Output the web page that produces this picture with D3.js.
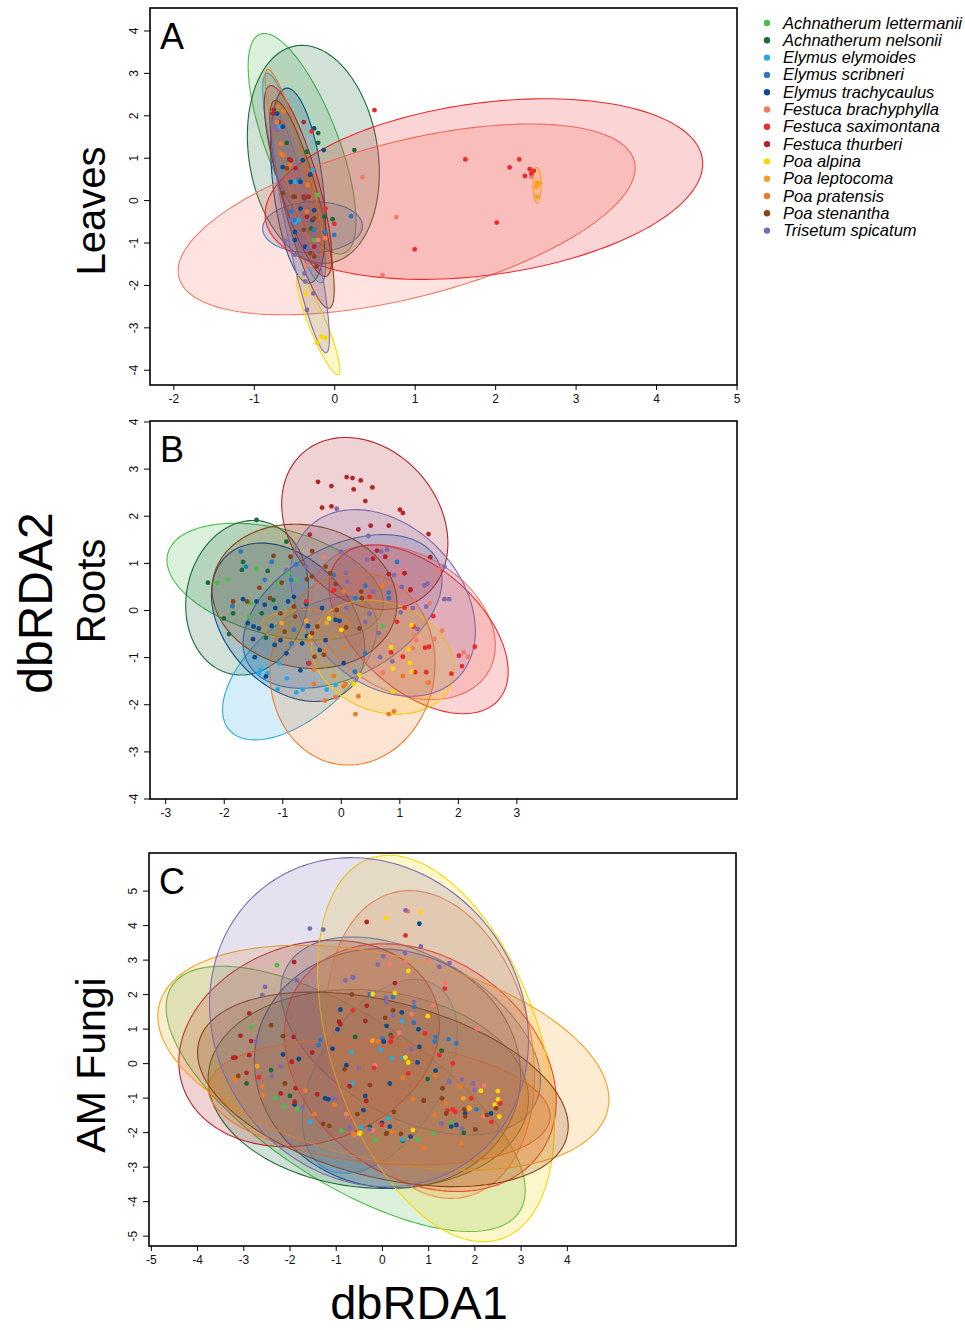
<!DOCTYPE html>
<html>
<head>
<meta charset="utf-8">
<title>dbRDA ordination</title>
<style>
	body { margin: 0; background: #fff; }
	text { font-family: "Liberation Sans", Arial, Helvetica, sans-serif; }
</style>
</head>
<body>
<script src="https://cdn.jsdelivr.net/npm/d3@7"></script>
<script>
// species and their colours
var species = ["Achnatherum lettermanii", "Achnatherum nelsonii", "Elymus elymoides", "Elymus scribneri",
	"Elymus trachycaulus", "Festuca brachyphylla", "Festuca saximontana", "Festuca thurberi", "Poa alpina",
	"Poa leptocoma", "Poa pratensis", "Poa stenantha", "Trisetum spicatum"];
var palette = ["#4dbb4d", "#1b6b3a", "#2aa9e0", "#2b78c2", "#0c4c8c", "#f47a65", "#ec2a2e",
	"#b0242a", "#fcd800", "#f9a11d", "#ef7a26", "#8b4419", "#7d6ab0"];

// ellipses per species: [centre x, centre y, half width, half height, correlation]
var ellA = [[-0.4,1.33,0.67,2.6,-0.7],[-0.26,1.08,0.82,2.57,-0.17],[-0.5,0.52,0.39,2.47,-0.85],[-0.27,-0.64,0.62,0.6,0.05],
	[-0.45,0.34,0.34,2.3,-0.4],[0.9,-0.455,2.84,2.25,0.54],[1.86,0.26,2.72,2.13,0.28],[-0.45,0.45,0.42,2.25,-0.8],
	[-0.2,-2.95,0.27,1.17,-0.9],[2.52,0.35,0.05,0.42,0],[-0.5,0.88,0.36,2.2,-0.9],[-0.4,-0.1,0.4,2.45,-0.82],[-0.42,-0.74,0.36,2.86,-0.88]];
var ellB = [[-1.12,0.6,1.85,1.24,-0.37],[-1.6,0.26,1.05,1.64,0.1],[-0.7,-1.235,1.32,1.52,0.58],[0.03,-0.03,1.7,1.63,0.41],
	[-0.9,-0.26,1.31,1.68,-0.35],[1.07,-0.26,1.57,1.64,-0.3],[1.33,-0.41,1.53,1.79,-0.5],[0.41,1.835,1.42,1.825,-0.23],
	[0.72,-1.0,1.22,1.21,-0.2],[-0.61,-0.33,0.76,0.34,0],[0.2,-1.24,1.41,2.05,0.05],[-0.62,0.29,1.58,1.53,-0.1],[0.72,0.15,1.58,1.98,-0.3]];
var ellC = [[-0.785,-1.035,3.885,3.845,-0.69],[-0.295,-0.75,3.465,2.88,-0.1],[-0.045,-0.385,1.675,2.805,0.45],[0.62,0.785,2.81,2.87,-0.45],
	[0.12,-0.155,2.88,3.47,-0.06],[1.05,0.54,2.25,4.46,-0.2],[0.83,-0.13,2.94,3.59,-0.27],[-1.575,0.57,2.82,2.99,0.18],
	[1.17,0.425,2.56,5.6,-0.4],[0.03,0.155,4.88,3.26,-0.37],[-0.06,-1.135,3.7,1.815,-0.22],[0.02,-0.76,4.01,2.82,-0.38],[-0.28,1.185,3.45,4.77,-0.11]];

// site scores per species (dbRDA1, dbRDA2)
var ptsA = [
	[[-0.21,0.12],[-0.71,2.12],[-0.25,-0.94]],
	[[0.25,1.18],[-0.2,1.58],[-0.2,1.35],[-0.02,-0.45],[-0.34,1.14],[-0.59,1.35],[-0.12,-0.39],[-0.29,-0.67]],
	[[-0.27,0.71],[-0.49,-0.53],[-0.69,1.74],[-0.71,2.04],[-0.49,0.43],[-0.44,-0.47]],
	[[0.21,-0.38],[0,-0.82],[-0.25,-0.7],[-0.12,-0.75],[-0.44,0.47],[-0.54,-0.27],[-0.5,-0.47]],
	[[-0.25,1.69],[-0.13,1.18],[-0.39,0.94],[-0.54,0.43],[-0.42,-0.2],[-0.49,-0.75],[-0.27,-0.47],[-0.64,0.78],[-0.71,2.04],[-0.42,0.43],[-0.49,-0.94],[-0.36,-1.1],[-0.25,-0.24],[-0.64,1.73],[-0.3,0.6]],
	[[0.35,0.54],[0.77,-0.4],[0.6,-1.77],[2.45,0.55],[-0.11,-0.9],[-0.34,-1.53],[-0.2,-0.94]],
	[[0.5,2.12],[1.63,0.96],[2.02,-0.53],[2.18,0.77],[2.3,0.96],[2.37,0.57],[2.43,0.73],[2.48,0.69],[2.45,0.63],[1.0,-1.16],[-0.11,-0.2],[-0.28,1.62],[0,-0.56]],
	[[-0.76,2.04],[-0.75,2.13],[-0.69,1.84],[-0.54,0.94],[-0.48,0.75],[-0.38,0.08],[-0.32,0.08],[-0.34,-0.39],[-0.25,-1.1],[-0.38,1.84],[-0.56,0.96]],
	[[-0.35,-2.2],[-0.16,-3.22],[-0.11,-3.25],[-0.21,-3.37]],
	[[2.52,0.41],[2.55,0.39],[2.52,0.08],[2.51,0.31]],
	[[-0.69,2.2],[-0.63,2.09],[-0.66,1.1],[-0.64,1.06],[-0.55,0.82],[-0.33,0.35],[-0.34,-0.27],[-0.71,1.84],[-0.66,1.33]],
	[[-0.64,0.16],[-0.49,0.08],[-0.37,0.04],[-0.25,-0.43],[-0.22,-1.57],[-0.3,-1.25],[-0.38,-0.7],[-0.59,0.75],[-0.51,0.08],[-0.25,-1.33]],
	[[-0.34,-2.59],[-0.26,-2.2],[-0.61,-0.96],[-0.49,-1.29],[-0.37,-1.73],[-0.74,1.73],[-0.54,-0.47],[-0.32,-1.14],[-0.71,1.65],[-0.36,-1.92]]
];
var ptsB = [
	[[-2.11,0.58],[-1.93,0.64],[-1.44,0.88],[-1.54,0.14],[-1.57,-0.14],[-0.76,0.64],[0.72,-0.34],[-0.9,0.78],[-1.07,0.56]],
	[[-2.27,0.58],[-2.0,-0.18],[-1.91,-0.51],[-1.67,1.02],[-1.69,0.85],[-1.25,0.83],[-0.93,1.45],[-1.15,0.21],[-1.35,-0.07],[-1.28,-0.59],[-1.84,-0.07],[-1.44,1.91]],
	[[-1.37,-1.27],[-1.25,-1.34],[-1.08,-1.68],[-0.92,-1.45],[-0.76,-1.75],[-0.65,-1.69],[-0.24,-1.69],[-0.09,-1.59],[0.25,0.23],[-0.22,-0.25],[-1.05,-1.13],[-1.4,-1.34]],
	[[0.96,1.02],[0.42,0.51],[0.82,0.37],[-0.12,0.74],[-0.85,0.64],[0.25,0.25],[-0.8,-0.42],[-1.71,1.24],[-1.62,0.92],[-1.18,1.02],[-0.76,0.97],[-1.85,0.08],[-1.3,0.64],[0.42,-0.92],[0.24,-1.31],[-0.84,-0.71],[0.82,0.25]],
	[[-1.67,0.23],[-1.44,0.18],[-1.59,-0.28],[-1.49,-0.35],[-1.4,-0.39],[-1.47,-1.0],[-1.5,-0.62],[-1.18,-0.34],[-1.3,0.11],[-1.12,0.04],[-1.03,-0.64],[-0.93,-0.92],[-1.13,-0.74],[-0.8,0.28],[-0.9,0.18],[-0.66,-0.71],[-0.69,-1.28],[-0.55,-1.13],[-0.09,-0.21],[-0.02,-0.23],[0.05,-1.13],[-0.58,-0.55],[-0.36,-0.85],[-0.26,-0.64],[-1.28,-1.41],[-0.32,0.04],[-0.56,-0.34],[-0.59,0.13]],
	[[-0.29,1.13],[1.02,0.8],[1.67,0.85],[1.5,0.56],[1.52,0.14],[1.6,-0.62],[1.73,-0.44],[2.1,-0.9],[2.17,-0.99],[1.29,-0.64],[1.26,-0.55],[0.72,-1.33],[1.23,-0.81],[1.48,-1.54]],
	[[-0.12,0.42],[1.09,0.05],[0.96,-0.25],[1.24,-0.35],[1.58,-0.13],[0.86,-0.9],[1.06,-0.99],[1.27,-1.32],[1.46,-1.32],[1.51,-0.78],[1.44,-0.8],[1.89,-1.35],[2.02,-0.97],[2.07,-1.19],[2.29,-0.78],[0.49,0.28],[-0.59,0.18],[-0.54,-1.13],[1.19,0.44]],
	[[-0.39,2.72],[-0.16,2.63],[0.1,2.82],[0.2,2.8],[0.34,2.75],[0.22,2.56],[0.54,2.6],[-0.32,2.17],[-0.16,2.2],[0.42,2.31],[1.01,2.13],[1.06,2.06],[0.3,1.71],[0.51,1.79],[0.82,1.79],[1.5,1.61],[1.53,1.12],[0.76,1.13],[0.55,1.09],[-0.53,1.6],[0.62,1.26],[0.82,0.76],[1.09,0.78],[1.19,0.42]],
	[[-0.2,-0.18],[0.01,-0.42],[1.21,-0.32],[1.16,-0.83],[0.86,-0.79],[0.89,-1.24],[1.18,-1.12],[1.21,-1.31],[0.32,-1.38],[0.89,-1.73],[0.22,-1.57]],
	[[-0.59,-0.23],[-1.01,-0.28],[-0.53,-0.56],[-0.24,-0.27]],
	[[0.25,-2.21],[0.82,-2.21],[0.91,-2.15],[-0.09,-1.85],[-0.27,-1.92],[0.3,-1.83],[0.05,-1.62],[0.08,-1.57],[-0.12,-1.4],[-0.46,-1.57],[-0.46,-1.26],[-0.28,-0.88],[0.05,-0.81],[1.06,-1.4],[1.5,-1.54],[0.05,0.39],[0.71,0.51]],
	[[-1.15,1.15],[-0.86,1.13],[-0.49,1.25],[-0.26,0.92],[-0.18,0.78],[-0.49,0.71],[-0.58,0.65],[-1.01,0.58],[-1.39,0.47],[-1.84,0.18],[-1.6,0.18],[-1.21,0.25],[-0.8,0.07],[-1.03,-0.07],[-0.96,-0.46],[-0.78,-0.14],[-0.09,0.55],[-0.07,0],[0.32,-0.39],[0.09,-0.37],[-0.45,-0.99],[-0.49,-0.49],[-0.29,-0.95],[0.35,0.39],[0.36,0.25],[-0.4,-0.35]],
	[[-0.07,2.15],[0.47,1.57],[0.79,1.28],[0.69,1.24],[0,1.24],[0.45,1.07],[1.77,0.92],[0.09,0.79],[0.91,0.74],[1.04,0.49],[1.43,0.52],[1.48,0.56],[1.77,0.23],[1.85,0.23],[1.46,0.07],[1.23,0.04],[1.02,-0.05],[0.49,-0.08],[0.1,0.04],[0.42,-0.25],[0.55,0.39],[0.65,-0.49],[1.31,-0.4],[0.67,-1.0],[0.88,-1.09],[-0.59,0.92],[-0.93,0.85],[0.11,0.6]]
];
var ptsC = [
	[[-2.27,2.84],[-2.83,1.05],[-2.3,-1.0],[-2.12,-1.26],[-1.83,-1.34],[-0.88,-1.96],[-0.15,-2.23],[0.77,-2.21],[1.11,-2.03],[1.5,-1.73]],
	[[-0.58,0.76],[0.19,0.81],[1.29,0.36],[-2.4,-0.2],[-1.99,-0.95],[-2.93,-0.59],[0.99,-0.46],[-0.26,-1.84],[0.1,-2.03],[0.45,-2.25],[1.77,-2.02]],
	[[0.43,1.22],[0.21,0.14],[0.45,0.16],[-0.66,0.31],[-0.64,-0.59],[-0.03,0.38],[-1.55,-1.7],[-0.45,-1.86],[0.13,-1.6],[0.45,-2.21]],
	[[-0.62,2.48],[-0.26,2.0],[0.24,1.92],[0.7,1.63],[0.69,1.17],[1.16,0.76],[1.44,0.69],[1.61,0.57],[1.14,0.62],[-1.33,0.67],[-1.37,0.52],[2.04,-1.34],[0.02,0.71]],
	[[0.81,4.04],[-0.9,1.55],[-0.96,0.98],[-1.07,0.42],[0.04,0.62],[0.1,1.08],[0.43,1.47],[0.79,0.98],[0.81,0.47],[0.77,0.02],[-0.77,-0.06],[-2.14,0.25],[-1.8,0.12],[-1.23,-1.02],[-1.16,-1.05],[-0.36,-0.95],[-0.4,-1.36],[0.17,-0.59],[0,-1.73],[0.17,-1.84],[0.62,-2.13],[1.16,-0.22],[1.5,-1.84],[1.61,-1.79],[1.8,-1.46],[2.36,-1.46],[-1.89,-1.2]],
	[[0.56,4.4],[0.17,2.86],[0.51,2.93],[0.99,2.98],[1.37,2.32],[1.11,1.68],[0.64,1.42],[0.37,0.88],[-0.15,-0.07],[2.06,1.0],[2.21,-0.66],[2.19,-1.55],[1.73,-0.46],[-0.77,-1.48],[-0.2,-1.94],[-0.6,-2.08]],
	[[0.51,3.7],[1.36,2.16],[-0.63,1.53],[0.93,0.86],[0.19,0.62],[0.21,0.76],[0.57,-0.3],[1.53,-0.01],[1.24,0.23],[1.42,-1.38],[1.53,-1.34],[1.59,-1.41],[1.93,-1.02],[2.56,-1.17],[2.37,-1.7],[0,-1.79],[-0.17,-0.14],[-2.66,-0.41]],
	[[-0.33,4.09],[-1.9,2.93],[0.28,2.32],[-0.33,1.66],[-0.93,1.2],[-0.9,1.13],[-0.36,1.22],[-2.87,1.44],[-3.06,0.79],[-2.83,0.64],[-1.91,0.76],[-1.51,0.31],[-1.95,0.04],[-2.87,0.23],[-3.17,0.16],[-3.22,0.16],[-2.93,-0.28],[-1.87,-0.73],[-2.19,-0.88],[-1.89,-1.12],[-1.4,-0.9],[-0.7,-0.67],[-0.34,-1.09],[0.9,-1.09]],
	[[0.09,4.2],[0.84,4.38],[0.57,2.67],[0.28,2.03],[0.99,1.36],[-0.2,2.0],[0.51,0.16],[0.57,0.02],[2.14,-0.8],[2.51,-0.81],[2.51,-1.05],[2.44,-1.2],[2.54,-1.55],[1.89,-1.31],[0.67,-1.94],[-0.47,-2.02],[-0.49,-2.05]],
	[[-2.7,-0.09],[-0.21,0.65],[1.89,-1.29],[1.76,-1.02]],
	[[-3.17,-0.46],[-2.59,-0.68],[-2.59,-0.93],[-1.66,-0.8],[-1.03,-1.2],[-1.46,-1.48],[-0.62,-2.05],[-0.09,0.62],[0.45,-0.42],[0.67,-1.05],[1.16,-0.35],[1.14,-1.5],[1.39,-1.17],[1.7,-0.68],[1.72,-2.32],[0.9,-2.45],[0.21,-1.99]],
	[[-2.4,1.1],[-2.14,0.78],[-3.11,-0.37],[-2.1,-0.59],[-1.27,-1.76],[-1.14,-1.82],[-0.53,-1.48],[-0.26,-0.64],[-0.65,1.99],[-0.81,-0.18],[0.07,1.31],[0.24,1.53],[0.26,-1.41],[0.41,-2.05],[0.9,-1.07],[1.31,-0.73],[1.3,-1.02],[1.39,-1.46],[1.78,-1.34],[1.8,-1.55],[2.02,-1.92],[2.27,-1.5],[2.47,-1.31],[0.09,-2.05]],
	[[0.51,4.43],[-1.56,3.9],[-1.27,3.87],[0.84,3.38],[0.5,3.19],[0.03,3.1],[-0.09,2.86],[1.24,2.79],[1.46,2.9],[-0.79,2.4],[-0.64,2.48],[-1.84,2.4],[-2.53,2.21],[-2.59,1.97],[-2.73,0.64],[-2.38,-0.37],[-2.19,-0.09],[-0.5,-0.14],[-1.03,-1.02],[-1.72,-1.28],[-0.7,-1.87],[0.09,1.9],[0.1,1.77],[0.24,1.39],[0.69,1.77],[0.64,0.41],[1.46,-0.54],[1.73,-0.47],[1.97,-0.59],[2.0,-0.78],[1.29,-1.75],[1.73,-1.89],[-0.27,-1.92]]
];

// axis ticks
var xTicksA = [-2, -1, 0, 1, 2, 3, 4, 5], yTicksA = [-4, -3, -2, -1, 0, 1, 2, 3, 4];
var xTicksB = [-3, -2, -1, 0, 1, 2, 3], yTicksB = [-4, -3, -2, -1, 0, 1, 2, 3, 4];
var xTicksC = [-5, -4, -3, -2, -1, 0, 1, 2, 3, 4], yTicksC = [-5, -4, -3, -2, -1, 0, 1, 2, 3, 4, 5];

var panels = [
	{ tag: "A", ell: ellA, pts: ptsA, xt: xTicksA, yt: yTicksA, xd: [-2.29, 5.006], yd: [-4.36, 4.53], left: 150, right: 737, top: 8, bottom: 385 },
	{ tag: "B", ell: ellB, pts: ptsB, xt: xTicksB, yt: yTicksB, xd: [-3.26, 6.77], yd: [-4.01, 4.01], left: 150, right: 737, top: 421, bottom: 799 },
	{ tag: "C", ell: ellC, pts: ptsC, xt: xTicksC, yt: yTicksC, xd: [-5.04, 7.66], yd: [-5.3, 6.09], left: 149, right: 736, top: 853, bottom: 1246 }
];

var svg = d3.select("body").append("svg")
	.attr("width", 965)
	.attr("height", 1330);

// outline of an ellipse given its bounding half widths and correlation
function ellipseOutline(e) {
	var out = [], k = Math.sqrt(1 - e[4] * e[4]);
	for (var i = 0; i < 160; i++) {
		var t = i / 160 * 2 * Math.PI;
		out.push([e[0] + e[2] * Math.cos(t), e[1] + e[3] * (e[4] * Math.cos(t) + k * Math.sin(t))]);
	}
	return out;
}

panels.forEach(function(p, pi) {
	var x = d3.scaleLinear().domain(p.xd).range([p.left, p.right]);
	var y = d3.scaleLinear().domain(p.yd).range([p.bottom, p.top]);

	svg.append("clipPath").attr("id", "clip" + pi)
		.append("rect")
		.attr("x", p.left).attr("y", p.top)
		.attr("width", p.right - p.left).attr("height", p.bottom - p.top);

	var g = svg.append("g").attr("clip-path", "url(#clip" + pi + ")");
	var line = d3.line()
		.x(function(d) { return x(d[0]); })
		.y(function(d) { return y(d[1]); })
		.curve(d3.curveLinearClosed);

	// ellipses
	g.selectAll(".ell")
		.data(p.ell)
		.enter().append("path")
		.attr("d", function(d) { return line(ellipseOutline(d)); })
		.attr("fill", function(d, i) { return palette[i]; })
		.attr("fill-opacity", 0.2)
		.attr("stroke", function(d, i) { return palette[i]; })
		.attr("stroke-width", 1.1);

	// points
	p.pts.forEach(function(set, si) {
		g.selectAll(".pt" + si)
			.data(set)
			.enter().append("circle")
			.attr("cx", function(d) { return x(d[0]); })
			.attr("cy", function(d) { return y(d[1]); })
			.attr("r", 2.4)
			.attr("fill", palette[si]);
	});

	// x axis
	var xa = svg.append("g")
		.attr("transform", "translate(0," + p.bottom + ")")
		.call(d3.axisBottom(x).tickValues(p.xt).tickSize(5).tickPadding(4).tickFormat(function(d) { return String(d); }));
	xa.select(".domain").remove();
	xa.selectAll("line").attr("stroke", "#000");
	xa.selectAll("text").style("font-size", "12px").attr("fill", "#111");

	// y axis, labels turned along the axis
	var ya = svg.append("g")
		.attr("transform", "translate(" + p.left + ",0)")
		.call(d3.axisLeft(y).tickValues(p.yt).tickSize(6).tickFormat(function(d) { return String(d); }));
	ya.select(".domain").remove();
	ya.selectAll("line").attr("stroke", "#000");
	ya.selectAll("text")
		.style("font-size", "12px")
		.attr("fill", "#111")
		.attr("transform", "rotate(-90)")
		.attr("x", 0)
		.attr("y", -12)
		.attr("dy", 0)
		.style("text-anchor", "middle");

	// frame
	svg.append("rect")
		.attr("x", p.left).attr("y", p.top)
		.attr("width", p.right - p.left).attr("height", p.bottom - p.top)
		.attr("fill", "none")
		.attr("stroke", "#000")
		.attr("stroke-width", 1.6);

	// panel letter
	svg.append("text")
		.attr("x", p.left + 10)
		.attr("y", p.top + 41)
		.style("font-size", "36px")
		.text(p.tag);
});

// side labels
function sideLabel(txt, x, y, size) {
	svg.append("text")
		.attr("transform", "translate(" + x + "," + y + ") rotate(-90)")
		.attr("text-anchor", "middle")
		.style("font-size", size + "px")
		.text(txt);
}
sideLabel("Leaves", 105, 211, 40);
sideLabel("Roots", 105, 591, 40);
sideLabel("AM Fungi", 105, 1065, 41);
sideLabel("dbRDA2", 52, 603, 48);

svg.append("text")
	.attr("x", 419)
	.attr("y", 1319)
	.attr("text-anchor", "middle")
	.style("font-size", "47px")
	.text("dbRDA1");

// legend
var legend = svg.append("g");
species.forEach(function(s, i) {
	var cy = 23 + i * 17.3;
	legend.append("circle")
		.attr("cx", 767).attr("cy", cy).attr("r", 3.2)
		.attr("fill", palette[i]);
	legend.append("text")
		.attr("x", 783).attr("y", cy + 5.5)
		.style("font-size", "16.5px")
		.style("font-style", "italic")
		.text(s);
});
</script>
</body>
</html>
